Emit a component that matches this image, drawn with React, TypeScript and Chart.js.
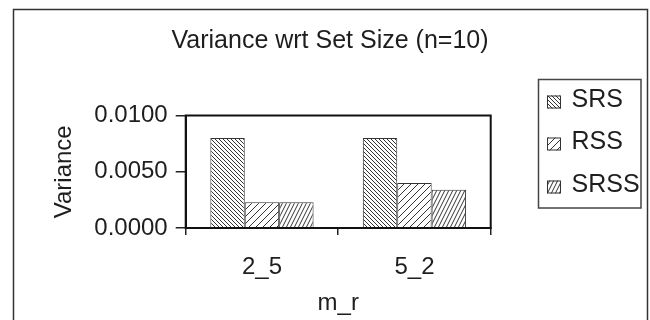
import React, { useEffect, useRef } from 'react';
import { Chart, registerables } from 'chart.js';

Chart.register(...registerables);

const categories = ['2_5', '5_2'];
const seriesNames = ['SRS', 'RSS', 'SRSS'];
const srsValues = [0.008, 0.008];
const rssValues = [0.0023, 0.004];
const srssValues = [0.0023, 0.0034];
const yTickValues = [0, 0.005, 0.01];
const chartTitle = 'Variance wrt Set Size (n=10)';
const xTitle = 'm_r';
const yTitle = 'Variance';

const FONT = "'Liberation Sans', Arial, Helvetica, sans-serif";
const INK = '#1e1e1e';

function makePattern(kind: string): CanvasPattern | string {
  const c = document.createElement('canvas');
  let w = 4;
  let h = 4;
  if (kind === 'fwd') { w = 7; h = 7; }
  if (kind === 'steep') { w = 4; h = 8; }
  c.width = w;
  c.height = h;
  const g = c.getContext('2d');
  if (!g) return '#ccc';
  g.fillStyle = '#ffffff';
  g.fillRect(0, 0, w, h);
  g.strokeStyle = '#333333';
  g.lineWidth = 1;
  g.beginPath();
  if (kind === 'back') {
    for (let k = -1; k <= 1; k++) {
      g.moveTo(k * w - 1, -1);
      g.lineTo(k * w + w + 1, h + 1);
    }
  } else if (kind === 'fwd') {
    for (let k = -1; k <= 1; k++) {
      g.moveTo(k * w - 1, h + 1);
      g.lineTo(k * w + w + 1, -1);
    }
  } else {
    for (let k = -1; k <= 1; k++) {
      g.moveTo(k * w - 0.5, h + 1);
      g.lineTo(k * w + w + 0.5, -1);
    }
  }
  g.stroke();
  const p = g.createPattern(c, 'repeat');
  return p || '#ccc';
}

const frame = {
  id: 'frame',
  beforeDraw(chart: any) {
    const ctx = chart.ctx;
    ctx.save();
    ctx.fillStyle = '#ffffff';
    ctx.fillRect(0, 0, chart.width, chart.height);
    ctx.strokeStyle = '#333333';
    ctx.lineWidth = 1.5;
    ctx.strokeRect(13.5, 9.5, 634, 400);
    ctx.restore();
  },
  afterDraw(chart: any) {
    const ctx = chart.ctx;
    const a = chart.chartArea;
    ctx.save();
    ctx.strokeStyle = '#111111';
    ctx.lineWidth = 2;
    ctx.strokeRect(a.left, a.top, a.right - a.left, a.bottom - a.top);
    // legend
    const bx = 538.5, by = 79.5, bw = 102.5, bh = 128.5;
    ctx.strokeStyle = '#444444';
    ctx.lineWidth = 1.5;
    ctx.strokeRect(bx, by, bw, bh);
    const centers = [100.5, 142.5, 185.5];
    chart.data.datasets.forEach((ds: any, i: number) => {
      const cy = centers[i];
      ctx.fillStyle = ds.backgroundColor;
      ctx.fillRect(547, cy - 5, 14, 13);
      ctx.strokeStyle = '#333333';
      ctx.lineWidth = 1;
      ctx.strokeRect(547.5, cy - 4.5, 13, 12);
      ctx.fillStyle = INK;
      ctx.font = `25px ${FONT}`;
      ctx.textBaseline = 'middle';
      ctx.textAlign = 'left';
      ctx.fillText(ds.label, 571.5, cy);
    });
    ctx.restore();
  },
};

export default function App() {
  const ref = useRef<HTMLCanvasElement>(null);
  useEffect(() => {
    document.body.style.margin = '0';
    const canvas = ref.current;
    if (!canvas) return;
    const kinds = ['back', 'fwd', 'steep'];
    const values = [srsValues, rssValues, srssValues];
    const chart = new Chart(canvas, {
      type: 'bar',
      data: {
        labels: categories,
        datasets: seriesNames.map((name, i) => ({
          label: name,
          data: values[i],
          backgroundColor: makePattern(kinds[i]) as any,
          borderColor: '#333333',
          borderWidth: 1,
          categoryPercentage: 0.677,
          barPercentage: 1,
        })),
      },
      options: {
        animation: false,
        responsive: false,
        devicePixelRatio: 1,
        layout: { padding: { left: 49.5, right: 39.5, top: 26, bottom: 0 } },
        plugins: {
          legend: { display: false },
          tooltip: { enabled: false },
          title: {
            display: true,
            text: chartTitle,
            color: INK,
            font: { family: FONT, size: 25, weight: 'normal' },
            padding: { top: 0, bottom: 59.5 },
          },
        },
        scales: {
          x: {
            grid: { offset: true, drawOnChartArea: false, drawTicks: true, tickLength: 7, color: '#222', lineWidth: 1.5 },
            border: { display: true, color: '#111', width: 2 },
            ticks: { color: INK, font: { family: FONT, size: 24 }, padding: 18 },
            title: {
              display: true,
              text: xTitle,
              color: INK,
              font: { family: FONT, size: 24 },
              padding: { top: -10.6, bottom: 2 },
            },
          },
          y: {
            min: 0,
            max: 0.01,
            afterBuildTicks: (scale: any) => {
              scale.ticks = yTickValues.map((v) => ({ value: v }));
            },
            grid: { drawOnChartArea: false, drawTicks: true, tickLength: 10, color: '#222', lineWidth: 1.5 },
            border: { display: true, color: '#111', width: 2 },
            ticks: {
              color: INK,
              font: { family: FONT, size: 24 },
              padding: 8,
              callback: (v: any) => Number(v).toFixed(4),
            },
            title: {
              display: true,
              text: yTitle,
              color: INK,
              font: { family: FONT, size: 24 },
              padding: { top: 0, bottom: 8 },
            },
          },
          legendSpace: {
            position: 'right',
            display: true,
            grid: { display: false, drawTicks: false },
            border: { display: false },
            ticks: { display: false },
            afterFit: (scale: any) => {
              scale.width = 119.8;
            },
          },
        },
      } as any,
      plugins: [frame],
    });
    return () => chart.destroy();
  }, []);
  return (
    <div style={{ width: 650, height: 320 }}>
      <canvas ref={ref} width={650} height={320} style={{ display: 'block', width: 650, height: 320 }} />
    </div>
  );
}
